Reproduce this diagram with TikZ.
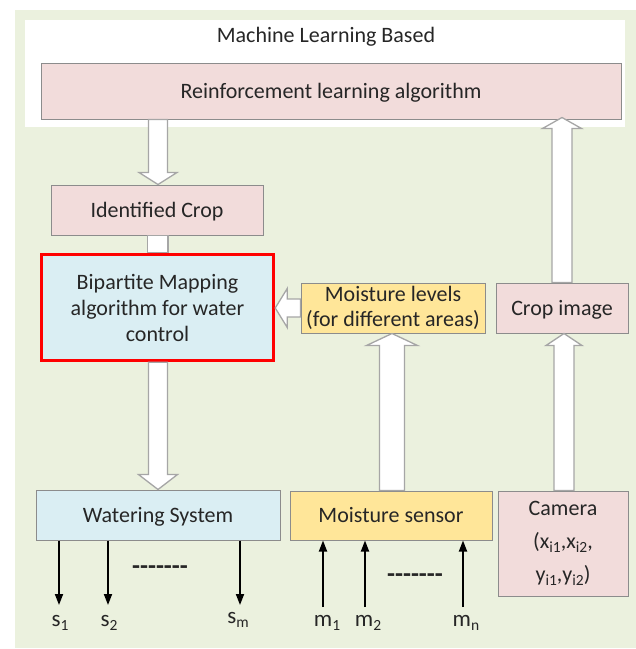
\documentclass[tikz,border=0pt]{standalone}
\usepackage{fontspec}
\setmainfont{Carlito}
\usetikzlibrary{calc,arrows.meta}
\definecolor{bggreen}{HTML}{EBF1DE}
\definecolor{pinkf}{HTML}{F2DCDB}
\definecolor{bluef}{HTML}{DAEEF3}
\definecolor{yellowf}{HTML}{FFE699}
\definecolor{boxgray}{HTML}{8C8C8C}
\definecolor{arrgray}{HTML}{A6A6A6}
\definecolor{txt}{HTML}{262626}
\tikzset{
  box/.style={draw=boxgray, line width=1pt, inner sep=0pt, text=txt, align=center,
    font=\fontsize{22}{26}\selectfont},
  oneline/.style={text height=14pt, text depth=0pt},
  pinkbox/.style={box, fill=pinkf},
  bluebox/.style={box, fill=bluef},
  yellowbox/.style={box, fill=yellowf},
  barrow/.style={draw=arrgray, line width=1.3pt, fill=white, line join=miter},
  thinarrow/.style={draw=black, line width=1.8pt, -{Triangle[width=8pt,length=11pt]}},
  lbl/.style={inner sep=0pt, anchor=base, text=txt, font=\fontsize{23}{26}\selectfont},
  dots/.style={inner sep=0pt, text=txt, font=\fontsize{26}{26}\selectfont\bfseries},
}
% block arrows: #1 start, #2 tip, #3 shaft half width, #4 head half width, #5 head length
\newcommand\blkdown[5]{\path[barrow] let \p1=(#1), \p2=(#2) in
  (\x2-#3,\y1) -- (\x2-#3,\y2+#5) -- (\x2-#4,\y2+#5) -- (\x2,\y2) -- (\x2+#4,\y2+#5) -- (\x2+#3,\y2+#5) -- (\x2+#3,\y1) -- cycle;}
\newcommand\blkup[5]{\path[barrow] let \p1=(#1), \p2=(#2) in
  (\x2-#3,\y1) -- (\x2-#3,\y2-#5) -- (\x2-#4,\y2-#5) -- (\x2,\y2) -- (\x2+#4,\y2-#5) -- (\x2+#3,\y2-#5) -- (\x2+#3,\y1) -- cycle;}
\newcommand\blkleft[5]{\path[barrow] let \p1=(#1), \p2=(#2) in
  (\x1,\y2-#3) -- (\x2+#5,\y2-#3) -- (\x2+#5,\y2-#4) -- (\x2,\y2) -- (\x2+#5,\y2+#4) -- (\x2+#5,\y2+#3) -- (\x1,\y2+#3) -- cycle;}
\newcommand\dashrow{-{}-{}-{}-{}-{}-{}-}
\newcommand\lowsub[1]{\raisebox{-4pt}{\fontsize{15.5}{16}\selectfont #1}}
\begin{document}
\begin{tikzpicture}[x=1pt,y=-1pt]
\useasboundingbox (0,0) rectangle (636,649);
\fill[white] (0,0) rectangle (636,649);
\fill[bggreen] (15,10) rectangle (636,648);
\fill[white] (25,20) rectangle (625,127);

\node[inner sep=0pt, text=txt, font=\fontsize{22}{26}\selectfont] (title) at (326,37) {Machine Learning Based};

\node[pinkbox, oneline, minimum width=580pt, minimum height=56pt] (rl) at (331,91) {Reinforcement learning algorithm};
\node[pinkbox, oneline, minimum width=212pt, minimum height=50pt] (ic) at (157,210) {Identified Crop};
\node[box, fill=bluef, draw=red, line width=3.5pt, minimum width=232pt, minimum height=106pt] (bm) at (157.5,307.5) {Bipartite Mapping\\algorithm for water\\control};
\node[yellowbox, minimum width=184pt, minimum height=50pt,
  font=\fontsize{22}{25}\selectfont] (ml) at (393,308) {Moisture levels\\(for different areas)};
\node[pinkbox, oneline, minimum width=132pt, minimum height=50pt] (ci) at (562,308) {Crop image};
\node[bluebox, oneline, minimum width=244pt, minimum height=50pt] (ws) at (158,515) {Watering System};
\node[yellowbox, oneline, minimum width=202pt, minimum height=49pt] (ms) at (391,515.5) {Moisture sensor};
\node[pinkbox, minimum width=130pt, minimum height=105pt,
  font=\fontsize{22}{33}\selectfont] (cam) at (563,543.5)
  {Camera\\(x\lowsub{i1},x\lowsub{i2},\\y\lowsub{i1},y\lowsub{i2})};

% block arrows
\blkdown{$(rl.south -| ic.north)+(1,0)$}{$(ic.north)+(1,0)$}{9.5pt}{19pt}{12pt}
\path[barrow] ($(ic.south)+(-9.5,0)$) rectangle ($(bm.north)+(10.5,0)$);
\blkdown{$(bm.south)+(0.5,0)$}{$(ws.north -| bm.south)+(0.5,0)$}{9.5pt}{19.5pt}{15pt}
\blkleft{ml.west}{bm.east |- ml.west}{9pt}{19.5pt}{12pt}
\blkup{$(ms.north -| ml.south)+(-1,0)$}{$(ml.south)+(-1,0)$}{12.5pt}{25.5pt}{12pt}
\blkup{$(cam.north -| ci.south)+(2,0)$}{$(ci.south)+(2,0)$}{10pt}{18pt}{12pt}
\blkup{ci.north}{$(rl.south -| ci.north)+(0,-2)$}{10pt}{19.5pt}{11pt}

% outputs of the watering system
\coordinate (s1) at (59,605);
\coordinate (s2) at (108,605);
\coordinate (sm) at (240,605);
\draw[thinarrow] (ws.south -| s1) -- (s1);
\draw[thinarrow] (ws.south -| s2) -- (s2);
\draw[thinarrow] (ws.south -| sm) -- (sm);
\node[lbl] (ls1) at (60,626) {s\lowsub{1}};
\node[lbl] (ls2) at (109,626) {s\lowsub{2}};
\node[lbl] (lsm) at (238,623) {s\lowsub{m}};
\node[dots] (d1) at (160,570) {\dashrow};

% inputs of the moisture sensor
\coordinate (m1) at (323,607);
\coordinate (m2) at (365,607);
\coordinate (mn) at (463,607);
\draw[thinarrow] (m1) -- (ms.south -| m1);
\draw[thinarrow] (m2) -- (ms.south -| m2);
\draw[thinarrow] (mn) -- (ms.south -| mn);
\node[lbl] (lm1) at (327,626) {m\lowsub{1}};
\node[lbl] (lm2) at (368,626) {m\lowsub{2}};
\node[lbl] (lmn) at (466,626) {m\lowsub{n}};
\node[dots] (d2) at (415,578) {\dashrow};
\end{tikzpicture}
\end{document}
